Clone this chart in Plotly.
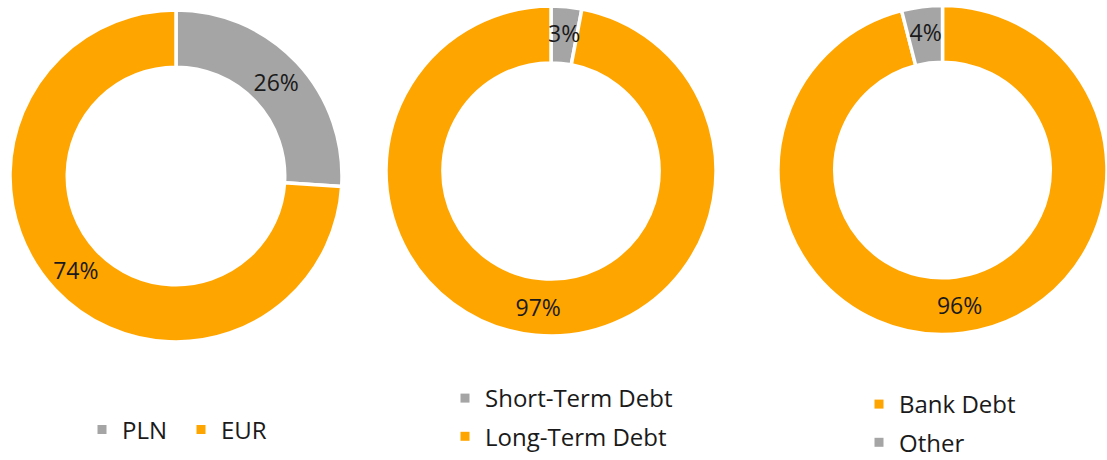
import math
import plotly.graph_objects as go

# Data
cur_labels = ["PLN", "EUR"]
cur_values = [26, 74]
cur_colors = ["#A5A5A5", "#FFA500"]

term_labels = ["Short-Term Debt", "Long-Term Debt"]
term_values = [3, 97]
term_colors = ["#A5A5A5", "#FFA500"]

src_labels = ["Bank Debt", "Other"]
src_values = [96, 4]
src_colors = ["#FFA500", "#A5A5A5"]

W, H = 1107, 460
FONT = "Open Sans"
TXT = "#1a1a1a"
FS = 23      # slice label size
LFS = 24     # legend text size
SMALL = 5    # slices below this share get their label from a helper pie


def dom(cx, cy, r):
    return dict(x=[max(0, (cx - r) / W), min(1, (cx + r) / W)],
                y=[max(0, 1 - (cy + r) / H), min(1, 1 - (cy - r) / H)])


fig = go.Figure()

pies = [
    (cur_labels, cur_values, cur_colors, (176, 176, 166)),
    (term_labels, term_values, term_colors, (551, 171, 165)),
    (src_labels, src_values, src_colors, (943, 170, 165)),
]
for labels, values, colors, (cx, cy, r) in pies:
    pos = ["none" if v < SMALL else "inside" for v in values]
    fig.add_trace(go.Pie(
        labels=labels, values=values, hole=0.655, sort=False,
        direction="clockwise", rotation=0, domain=dom(cx, cy, r),
        marker=dict(colors=colors, line=dict(color="white", width=3.5)),
        texttemplate="%{value}%",
        textposition=pos, insidetextorientation="horizontal",
        textfont=dict(family=FONT, size=FS, color=TXT),
        showlegend=False, hoverinfo="label+percent",
    ))
    # helper pie (transparent) that carries the label of thin slices,
    # sized so plotly centres that label on the middle of the ring
    if any(v < SMALL for v in values):
        small_share = min(values) / sum(values)
        half = math.pi * small_share
        r_inscribed = 1 / (1 + 1 / math.sin(half))
        r_help = 139 / (1 - r_inscribed)
        fig.add_trace(go.Pie(
            labels=labels, values=values, sort=False,
            direction="clockwise", rotation=0, domain=dom(cx, cy, r_help),
            marker=dict(colors=["rgba(0,0,0,0)"] * len(values),
                        line=dict(width=0)),
            texttemplate="%{value}%",
            textposition=["inside" if v < SMALL else "none" for v in values],
            insidetextorientation="horizontal",
            textfont=dict(family=FONT, size=FS, color=TXT),
            showlegend=False, hoverinfo="skip",
        ))

# Legend entries (dummy scatter markers so symbol size/spacing can match)
legend_sets = [
    (cur_labels, cur_colors, "legend"),
    (term_labels, term_colors, "legend2"),
    (src_labels, src_colors, "legend3"),
]
for labels, colors, lg in legend_sets:
    for lab, col in zip(labels, colors):
        fig.add_trace(go.Scatter(
            x=[None], y=[None], mode="markers", name=lab,
            marker=dict(symbol="square", size=9, color=col),
            legend=lg, legendgroup=lg + lab, showlegend=True,
        ))

fig.update_xaxes(visible=False)
fig.update_yaxes(visible=False)

legfont = dict(family=FONT, size=LFS, color=TXT)
fig.update_layout(
    width=W, height=H,
    margin=dict(l=0, r=0, t=0, b=0, autoexpand=False),
    paper_bgcolor="white", plot_bgcolor="white",
    font=dict(family=FONT, color=TXT),
    uniformtext=dict(minsize=FS, mode="show"),
    legend=dict(orientation="h", x=82 / W, xanchor="left", y=1 - 430 / H,
                yanchor="middle", font=legfont, entrywidth=54,
                entrywidthmode="pixels", bgcolor="rgba(0,0,0,0)"),
    legend2=dict(orientation="v", x=445 / W, xanchor="left", y=1 - 417.5 / H,
                 yanchor="middle", font=legfont, tracegroupgap=4,
                 bgcolor="rgba(0,0,0,0)"),
    legend3=dict(orientation="v", x=859 / W, xanchor="left", y=1 - 423.5 / H,
                 yanchor="middle", font=legfont, tracegroupgap=4,
                 bgcolor="rgba(0,0,0,0)"),
)

fig.write_html("out.html", config={"displayModeBar": False},
               post_script="document.body.style.margin='0';"
                           "document.body.style.overflow='hidden';")
